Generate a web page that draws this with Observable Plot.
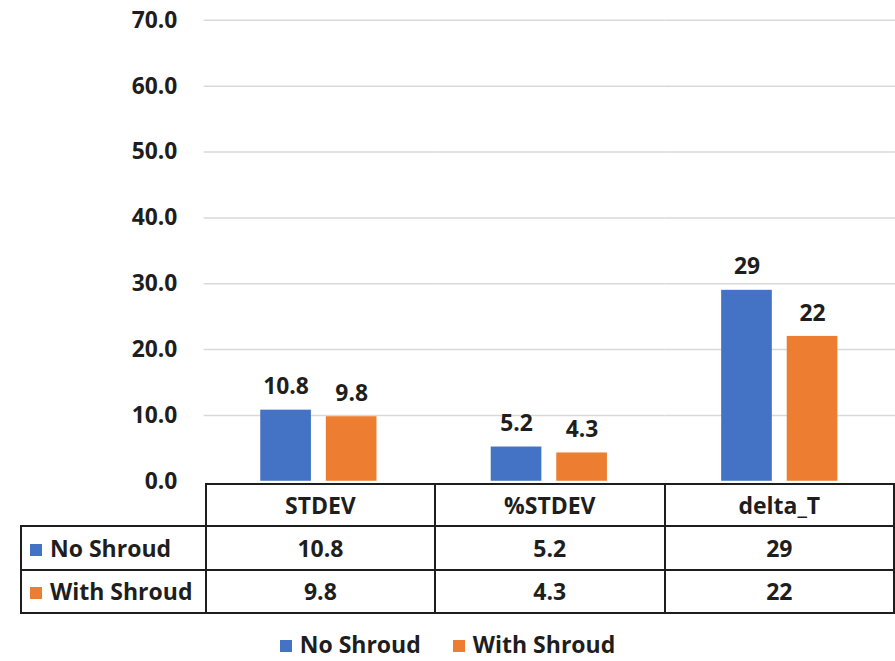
<!DOCTYPE html>
<html>
<head>
<meta charset="utf-8">
<script src="https://cdn.jsdelivr.net/npm/d3@7"></script>
<script src="https://cdn.jsdelivr.net/npm/@observablehq/plot@0.6"></script>
<style>
  html, body { margin: 0; padding: 0; background: #fff; }
  #wrap { position: relative; width: 895px; height: 661px; overflow: hidden;
          font-family: "Open Sans", sans-serif; font-weight: 700; color: #1e1e1e; }
  #chart { position: absolute; left: 0; top: 0; }
  table.data { position: absolute; left: 20px; top: 483px; border-collapse: collapse;
               font-size: 23px; table-layout: fixed; }
  table.data td { border: 2px solid #1e1e1e; text-align: center; padding: 0; line-height: 1; }
  table.data td.name { text-align: left; padding-left: 8px; white-space: nowrap; }
  table.data tr.head td.blank { border-top: none; border-left: none; }
  .sw { display: inline-block; width: 12px; height: 12px; margin-right: 8px; vertical-align: 1px; }
  #legend { position: absolute; top: 628px; left: 0; width: 895px; text-align: center;
            font-size: 23px; line-height: 32px; white-space: nowrap; }
  #legend span.item { margin: 0 16px; }
</style>
</head>
<body>
<div id="wrap">
  <div id="chart"></div>
  <table class="data" id="table"></table>
  <div id="legend"></div>
</div>
<script>
// Measures shown along the horizontal axis
const categories = ["STDEV", "%STDEV", "delta_T"];
// The two configurations compared
const seriesNames = ["No Shroud", "With Shroud"];
const noShroud = [10.8, 5.2, 29];
const withShroud = [9.8, 4.3, 22];
// Value labels as printed in the data table and above bars
const noShroudLabels = ["10.8", "5.2", "29"];
const withShroudLabels = ["9.8", "4.3", "22"];
const yTicks = [0, 10, 20, 30, 40, 50, 60, 70];
const colors = ["#4472C4", "#ED7D31"];

const rows = categories.flatMap((c, i) => [
  {category: c, series: seriesNames[0], value: noShroud[i], label: noShroudLabels[i]},
  {category: c, series: seriesNames[1], value: withShroud[i], label: withShroudLabels[i]}
]);

const chart = Plot.plot({
  width: 901,
  height: 484,
  marginLeft: 205,
  marginRight: 0,
  marginTop: 20,
  marginBottom: 0,
  style: {fontFamily: "Open Sans, sans-serif", fontSize: "23px", fontWeight: 700, color: "#1e1e1e", overflow: "visible"},
  fx: {domain: categories, padding: 0, axis: null},
  x: {domain: seriesNames, paddingInner: 0.227, paddingOuter: 0.87, axis: null},
  y: {domain: [0, 70], ticks: yTicks, tickFormat: d3.format(".1f"), tickSize: 0, tickPadding: 27, label: null, grid: false},
  color: {domain: seriesNames, range: colors},
  marks: [
    Plot.ruleY(yTicks.filter(d => d > 0), {stroke: "#d9d9d9", strokeWidth: 1.5, strokeOpacity: 1}),
    Plot.barY(rows, {fx: "category", x: "series", y: "value", fill: "series"}),
    Plot.text(rows, {fx: "category", x: "series", y: "value", text: "label",
                     lineAnchor: "bottom", dy: -16, fill: "#1e1e1e"})
  ]
});
document.getElementById("chart").appendChild(chart);

// Data table under the plot, one column per category
const colW = 232, nameW = 185;
const table = document.getElementById("table");
const cg = document.createElement("colgroup");
[nameW, colW, colW, colW].forEach(w => {
  const col = document.createElement("col");
  col.style.width = w + "px";
  cg.appendChild(col);
});
table.appendChild(cg);
const head = table.insertRow();
head.className = "head";
head.style.height = "42px";
const blank = head.insertCell();
blank.className = "blank";
categories.forEach(c => { head.insertCell().textContent = c; });
[[noShroudLabels, 44], [withShroudLabels, 43]].forEach(([labels, h], k) => {
  const tr = table.insertRow();
  tr.style.height = h + "px";
  const name = tr.insertCell();
  name.className = "name";
  name.innerHTML = `<span class="sw" style="background:${colors[k]}"></span>${seriesNames[k]}`;
  labels.forEach(v => { tr.insertCell().textContent = v; });
});

// Legend below the table
document.getElementById("legend").innerHTML = seriesNames
  .map((s, k) => `<span class="item"><span class="sw" style="background:${colors[k]}"></span>${s}</span>`)
  .join("");
</script>
</body>
</html>
